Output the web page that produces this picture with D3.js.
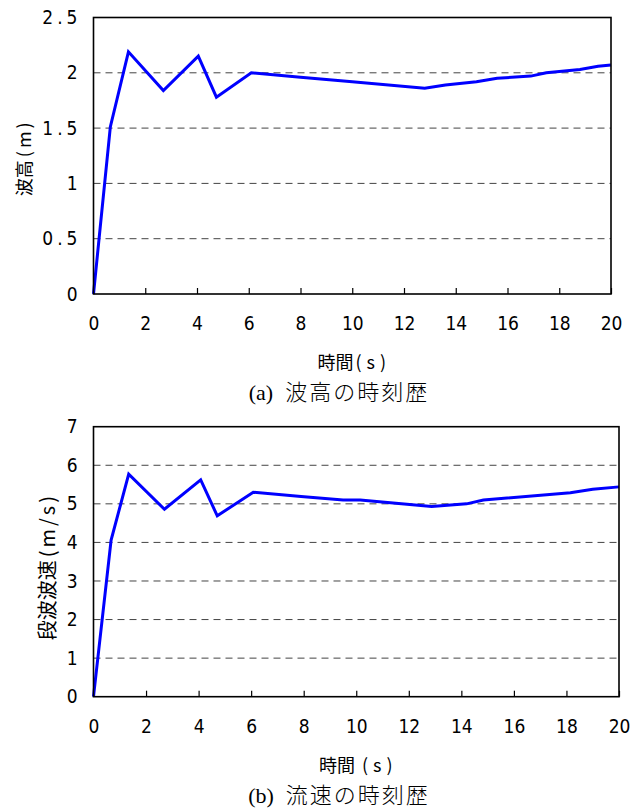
<!DOCTYPE html>
<html>
<head>
<meta charset="utf-8">
<script src="https://cdn.jsdelivr.net/npm/d3@7"></script>
<style>
  body { margin: 0; background: #fff; }
  svg { display: block; }
</style>
</head>
<body>
<div id="chart"></div>
<script>
// (a) wave height time history
const timeA = [0, 0.65, 1.35, 2.7, 4.05, 4.75, 6.1, 8, 10, 12.8, 13.6, 14.8, 15.6, 16.9, 17.5, 18.8, 19.5, 20];
const heightA = [0, 1.51, 2.19, 1.84, 2.15, 1.78, 2.0, 1.96, 1.92, 1.86, 1.89, 1.92, 1.95, 1.97, 2.0, 2.03, 2.06, 2.07];

// (b) bore speed time history
const timeB = [0, 0.67, 1.34, 2.7, 4.08, 4.71, 6.08, 7.9, 9.5, 10.15, 12.87, 14.2, 14.84, 18.15, 19.0, 20];
const speedB = [0, 4.06, 5.77, 4.86, 5.62, 4.69, 5.30, 5.19, 5.10, 5.10, 4.93, 5.0, 5.10, 5.29, 5.38, 5.44];

const xTicks = [0, 2, 4, 6, 8, 10, 12, 14, 16, 18, 20];
const yTicksA = [0, 0.5, 1, 1.5, 2, 2.5];
const yTicksB = [0, 1, 2, 3, 4, 5, 6, 7];

const width = 634, height = 810;
const svg = d3.select('#chart').append('svg')
    .attr('width', width)
    .attr('height', height);

const numFont = '"Liberation Sans Narrow", "DejaVu Sans Condensed", sans-serif';
const jpFont = '"Noto Sans CJK JP", sans-serif';

function drawPanel(opts) {
    const g = svg.append('g');
    const x = d3.scaleLinear().domain([0, 20]).range([opts.left, opts.right]);
    const y = d3.scaleLinear().domain([0, opts.yMax]).range([opts.bottom, opts.top]);

    // dashed grid
    g.selectAll('.grid')
        .data(opts.yTicks.filter(v => v > 0 && v < opts.yMax))
        .enter()
        .append('line')
        .attr('class', 'grid')
        .attr('x1', opts.left)
        .attr('x2', opts.right)
        .attr('y1', d => y(d))
        .attr('y2', d => y(d))
        .attr('stroke', '#444')
        .attr('stroke-width', 1)
        .attr('stroke-dasharray', '7,5');

    // bottom axis, ticks pointing inward
    const xAxis = d3.axisBottom(x).tickValues(xTicks).tickSize(-6).tickFormat(d3.format('d')).tickPadding(23);
    const xg = g.append('g')
        .attr('transform', `translate(0,${opts.bottom})`)
        .call(xAxis);
    xg.selectAll('.domain').remove();
    xg.selectAll('.tick line').attr('stroke', '#000').attr('stroke-width', 1.2);
    xg.selectAll('.tick text')
        .attr('font-family', numFont)
        .attr('font-size', 19)
        .attr('fill', '#000');

    const yAxis = d3.axisLeft(y).tickValues(opts.yTicks).tickSize(0).tickPadding(16)
        .tickFormat(d => String(d));
    const yg = g.append('g')
        .attr('transform', `translate(${opts.left},0)`)
        .call(yAxis);
    yg.selectAll('.domain').remove();
    yg.selectAll('.tick text')
        .attr('font-family', numFont)
        .attr('font-size', 19)
        .attr('fill', '#000')
        .filter(d => String(d).includes('.'))
        .attr('letter-spacing', 4)
        .attr('dx', 4);

    // data line
    const line = d3.line()
        .x(d => x(d[0]))
        .y(d => y(d[1]));
    g.append('path')
        .datum(d3.zip(opts.xs, opts.ys))
        .attr('d', line)
        .attr('fill', 'none')
        .attr('stroke', '#0000ff')
        .attr('stroke-width', 3)
        .attr('stroke-linejoin', 'miter');

    // frame
    g.append('rect')
        .attr('x', opts.left)
        .attr('y', opts.top)
        .attr('width', opts.right - opts.left)
        .attr('height', opts.bottom - opts.top)
        .attr('fill', 'none')
        .attr('stroke', '#000')
        .attr('stroke-width', 1.6);

    // y title, vertical
    const ty = (opts.top + opts.bottom) / 2 + opts.yTitleShift;
    const yt = g.append('text')
        .attr('transform', `translate(${opts.yTitleX},${ty}) rotate(-90)`)
        .attr('text-anchor', 'middle')
        .attr('dominant-baseline', 'central')
        .attr('font-family', jpFont)
        .attr('font-size', opts.yTitleSize);
    yt.append('tspan').text(opts.yTitle[0]);
    yt.append('tspan').attr('letter-spacing', 3).attr('dx', 3).text(opts.yTitle[1]);

    // x title
    const xt = g.append('text')
        .attr('x', (opts.left + opts.right) / 2 + 2)
        .attr('y', opts.bottom + 75)
        .attr('text-anchor', 'middle')
        .attr('font-family', jpFont)
        .attr('font-size', 18);
    xt.append('tspan').text('時間');
    xt.append('tspan').attr('letter-spacing', 5).attr('dx', opts.xTitleGap).text('(s)');

    // caption
    const cap = g.append('text')
        .attr('x', 339)
        .attr('y', opts.bottom + 106)
        .attr('text-anchor', 'middle')
        .attr('font-size', 22);
    cap.append('tspan')
        .attr('font-family', '"Liberation Serif", serif')
        .text(opts.captionTag);
    cap.append('tspan')
        .attr('font-family', jpFont)
        .attr('font-weight', 300)
        .attr('letter-spacing', 2)
        .attr('dx', 12)
        .text(opts.caption);
}

drawPanel({
    left: 93.5, right: 611, top: 17.5, bottom: 294,
    yMax: 2.5, yTicks: yTicksA,
    xs: timeA, ys: heightA,
    yTitle: ['波高', '(m)'], yTitleX: 23, yTitleSize: 18, yTitleShift: 2,
    xTitleGap: 2,
    captionTag: '(a)', caption: '波高の時刻歴'
});

drawPanel({
    left: 93.5, right: 619, top: 426.7, bottom: 696.7,
    yMax: 7, yTicks: yTicksB,
    xs: timeB, ys: speedB,
    yTitle: ['段波波速', '(m/s)'], yTitleX: 46, yTitleSize: 20, yTitleShift: 5,
    xTitleGap: 7,
    captionTag: '(b)', caption: '流速の時刻歴'
});
</script>
</body>
</html>
